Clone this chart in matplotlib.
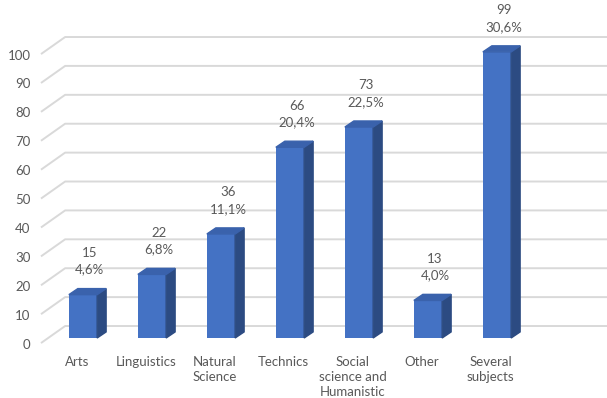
import matplotlib.pyplot as plt
from matplotlib.patches import Polygon

categories = ['Arts', 'Linguistics', 'Natural\nScience', 'Technics',
              'Social\nscience and\nHumanistic', 'Other', 'Several\nsubjects']
counts = [15, 22, 36, 66, 73, 13, 99]
shares = ['4,6%', '6,8%', '11,1%', '20,4%', '22,5%', '4,0%', '30,6%']
yticks = list(range(0, 101, 10))

front = '#4472C4'
side = '#2C4B82'
top = '#3A62AC'
grid = '#D9D9D9'
txt = '#595959'

# pseudo 3D offsets (data units): x in categories, y in values
bar_w = 0.41
depth_x, depth_y = 0.13, 2.1
front_dx, front_dy = -0.10, -1.75
back_dx, back_dy = 0.25, 4.15

fig = plt.figure(figsize=(6.07, 3.98), dpi=100)
ax = fig.add_axes([0, 0, 1, 1])
ax.set_xlim(-1.203, 7.594)
ax.set_ylim(-20.76, 116.96)
ax.axis('off')

# gridlines: slanted floor segment + back wall line
left = -0.609
for t in yticks:
    ax.plot([left, left + (back_dx - front_dx), 7.6],
            [t + front_dy, t + back_dy, t + back_dy],
            color=grid, lw=1.4, zorder=1, solid_capstyle='butt')
    ax.text(left - 0.15, t + front_dy - 0.5, str(t), ha='right', va='center',
            fontsize=9.5, color=txt, family='Lato')

xs = list(range(len(categories)))
ax.bar(xs, counts, width=bar_w, color=front, zorder=3)
for x, v in zip(xs, counts):
    r = x + bar_w / 2
    l = x - bar_w / 2
    ax.add_patch(Polygon([(r, 0), (r + depth_x, depth_y), (r + depth_x, v + depth_y), (r, v)],
                         closed=True, color=side, zorder=3))
    ax.add_patch(Polygon([(l, v), (r, v), (r + depth_x, v + depth_y), (l + depth_x, v + depth_y)],
                         closed=True, color=top, zorder=3))

for x, v, s in zip(xs, counts, shares):
    ax.text(x + 0.1, v + 6.6, f'{v}\n{s}', ha='center', va='bottom',
            fontsize=9.5, color=txt, family='Lato', linespacing=1.45)

for x, c in zip(xs, categories):
    ax.text(x - 0.09, -6.2, c, ha='center', va='top', fontsize=9.5,
            color=txt, family='Lato', linespacing=1.3)

fig.savefig('out.png', dpi=100)
